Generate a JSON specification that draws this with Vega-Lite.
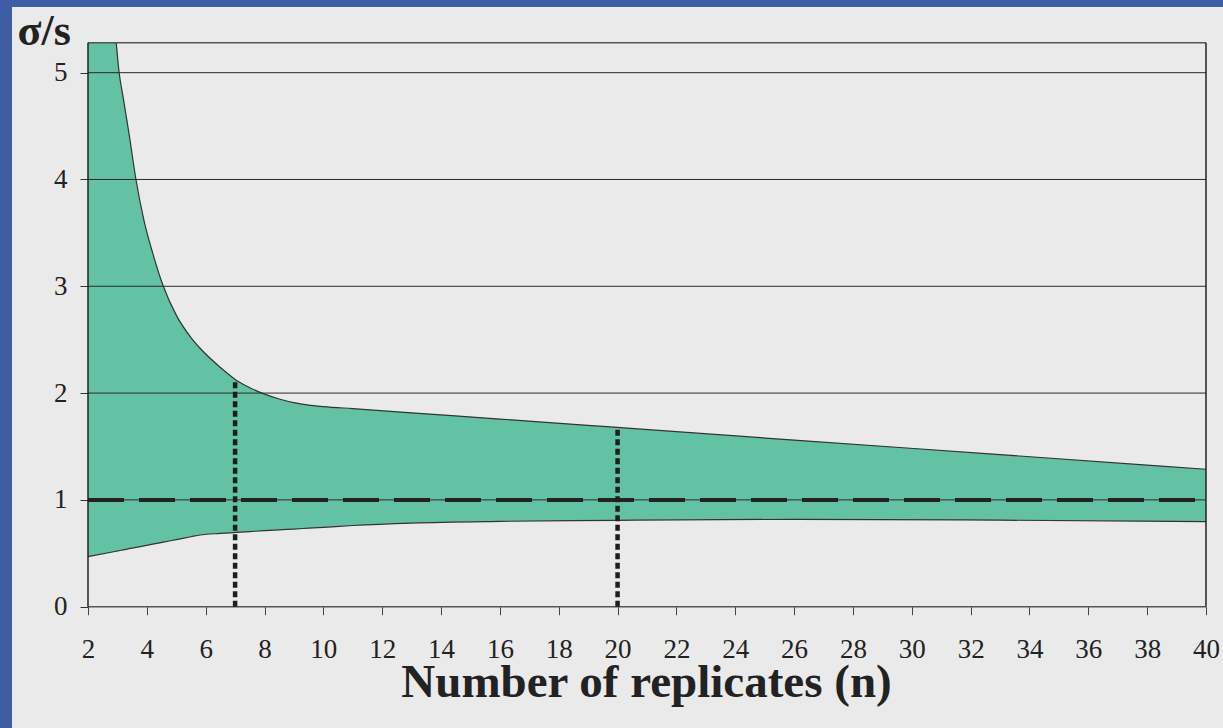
{
  "$schema": "https://vega.github.io/schema/vega-lite/v6.json",
  "width": 1211,
  "height": 721,
  "autosize": {"type": "none"},
  "padding": {"left": 12, "top": 7, "right": 0, "bottom": 0},
  "background": "#3E5DA7",
  "config": {
    "view": {"fill": "#EAEAEA", "stroke": null},
    "font": "Liberation Serif"
  },
  "datasets": {
    "band": [
      {"n": 2, "hi": 5.28, "lo": 0.468},
      {"n": 2.96, "hi": 5.28, "lo": 0.519},
      {"n": 3.05, "hi": 5.02, "lo": 0.524},
      {"n": 3.2, "hi": 4.76, "lo": 0.532},
      {"n": 3.4, "hi": 4.42, "lo": 0.543},
      {"n": 3.63, "hi": 4.0, "lo": 0.555},
      {"n": 3.9, "hi": 3.62, "lo": 0.569},
      {"n": 4.2, "hi": 3.31, "lo": 0.585},
      {"n": 4.56, "hi": 3.0, "lo": 0.604},
      {"n": 5.0, "hi": 2.73, "lo": 0.628},
      {"n": 5.5, "hi": 2.52, "lo": 0.655},
      {"n": 5.81, "hi": 2.42, "lo": 0.671},
      {"n": 6.5, "hi": 2.24, "lo": 0.686},
      {"n": 7.04, "hi": 2.12, "lo": 0.695},
      {"n": 7.5, "hi": 2.05, "lo": 0.703},
      {"n": 8.0, "hi": 1.99, "lo": 0.712},
      {"n": 8.5, "hi": 1.945, "lo": 0.72},
      {"n": 9.0, "hi": 1.91, "lo": 0.727},
      {"n": 9.5, "hi": 1.888, "lo": 0.735},
      {"n": 10.0, "hi": 1.874, "lo": 0.743},
      {"n": 11.0, "hi": 1.854, "lo": 0.76},
      {"n": 13.0, "hi": 1.815, "lo": 0.783},
      {"n": 16.0, "hi": 1.757, "lo": 0.799},
      {"n": 20, "hi": 1.678, "lo": 0.809},
      {"n": 26, "hi": 1.56, "lo": 0.818},
      {"n": 33, "hi": 1.424, "lo": 0.81},
      {"n": 40, "hi": 1.287, "lo": 0.797}
    ],
    "grid": [
      {"a": 2, "b": 40, "v": 1},
      {"a": 2, "b": 40, "v": 2},
      {"a": 2, "b": 40, "v": 3},
      {"a": 2, "b": 40, "v": 4},
      {"a": 2, "b": 40, "v": 5}
    ],
    "hframe": [
      {"a": 2, "b": 40, "v": 0},
      {"a": 2, "b": 40, "v": 5.28}
    ],
    "vframe": [
      {"n": 2, "lo": 0, "hi": 5.28},
      {"n": 40, "lo": 0, "hi": 5.28}
    ],
    "ref": [
      {"a": 2, "b": 40, "v": 1}
    ],
    "marks": [
      {"n": 7, "lo": 0, "hi": 2.12},
      {"n": 20, "lo": 0, "hi": 1.685}
    ]
  },
  "layer": [
    {
      "data": {"name": "band"},
      "mark": {"type": "area", "interpolate": "monotone", "color": "#63C2A3"},
      "encoding": {
        "x": {
          "field": "n", "type": "quantitative",
          "scale": {"domain": [-0.583, 40.578], "nice": false, "zero": false},
          "axis": {
            "values": [2, 4, 6, 8, 10, 12, 14, 16, 18, 20, 22, 24, 26, 28, 30, 32, 34, 36, 38, 40],
            "format": "d",
            "domain": false, "grid": false, "offset": -121.3,
            "tickSize": 8, "tickColor": "#444", "tickWidth": 1,
            "labelFontSize": 27, "labelPadding": 22, "labelColor": "#222", "labelFlush": false, "labelOverlap": false,
            "title": "Number of replicates (n)",
            "titleFontSize": 47, "titleFontWeight": "bold", "titleColor": "#222",
            "titleX": 634, "titleY": 90, "titleAlign": "center", "titleBaseline": "alphabetic"
          }
        },
        "y": {
          "field": "hi", "type": "quantitative",
          "scale": {"domain": [-1.136, 5.615], "nice": false, "zero": false},
          "axis": {
            "values": [0, 1, 2, 3, 4, 5],
            "format": "d",
            "domain": false, "grid": false, "offset": -76,
            "tickSize": 8, "tickColor": "#333", "tickWidth": 1,
            "labelFontSize": 27, "labelPadding": 13, "labelColor": "#222", "labelFlush": false, "labelOverlap": false,
            "title": "σ/s",
            "titleAngle": 0, "titleFontSize": 44, "titleFontWeight": "bold", "titleColor": "#222",
            "titleX": -71, "titleY": 37, "titleAlign": "left", "titleBaseline": "alphabetic"
          }
        },
        "y2": {"field": "lo"}
      }
    },
    {
      "data": {"name": "band"},
      "transform": [{"filter": "datum.n >= 2.96"}],
      "mark": {"type": "line", "interpolate": "monotone", "color": "#333", "strokeWidth": 1.2},
      "encoding": {
        "x": {"field": "n", "type": "quantitative"},
        "y": {"field": "hi", "type": "quantitative"}
      }
    },
    {
      "data": {"name": "band"},
      "mark": {"type": "line", "interpolate": "monotone", "color": "#333", "strokeWidth": 1.2},
      "encoding": {
        "x": {"field": "n", "type": "quantitative"},
        "y": {"field": "lo", "type": "quantitative"}
      }
    },
    {
      "data": {"name": "grid"},
      "mark": {"type": "rule", "color": "#2a2a2a", "strokeWidth": 1},
      "encoding": {
        "x": {"field": "a", "type": "quantitative"},
        "x2": {"field": "b"},
        "y": {"field": "v", "type": "quantitative"}
      }
    },
    {
      "data": {"name": "hframe"},
      "mark": {"type": "rule", "color": "#555", "strokeWidth": 1.5},
      "encoding": {
        "x": {"field": "a", "type": "quantitative"},
        "x2": {"field": "b"},
        "y": {"field": "v", "type": "quantitative"}
      }
    },
    {
      "data": {"name": "vframe"},
      "mark": {"type": "rule", "color": "#222", "strokeWidth": 1.5},
      "encoding": {
        "x": {"field": "n", "type": "quantitative"},
        "y": {"field": "lo", "type": "quantitative"},
        "y2": {"field": "hi"}
      }
    },
    {
      "data": {"name": "ref"},
      "mark": {"type": "rule", "color": "#232323", "strokeWidth": 4, "strokeDash": [36, 15]},
      "encoding": {
        "x": {"field": "a", "type": "quantitative"},
        "x2": {"field": "b"},
        "y": {"field": "v", "type": "quantitative"}
      }
    },
    {
      "data": {"name": "marks"},
      "mark": {"type": "rule", "color": "#1e1e1e", "strokeWidth": 4.5, "strokeDash": [6, 3.5]},
      "encoding": {
        "x": {"field": "n", "type": "quantitative"},
        "y": {"field": "lo", "type": "quantitative"},
        "y2": {"field": "hi"}
      }
    }
  ]
}
